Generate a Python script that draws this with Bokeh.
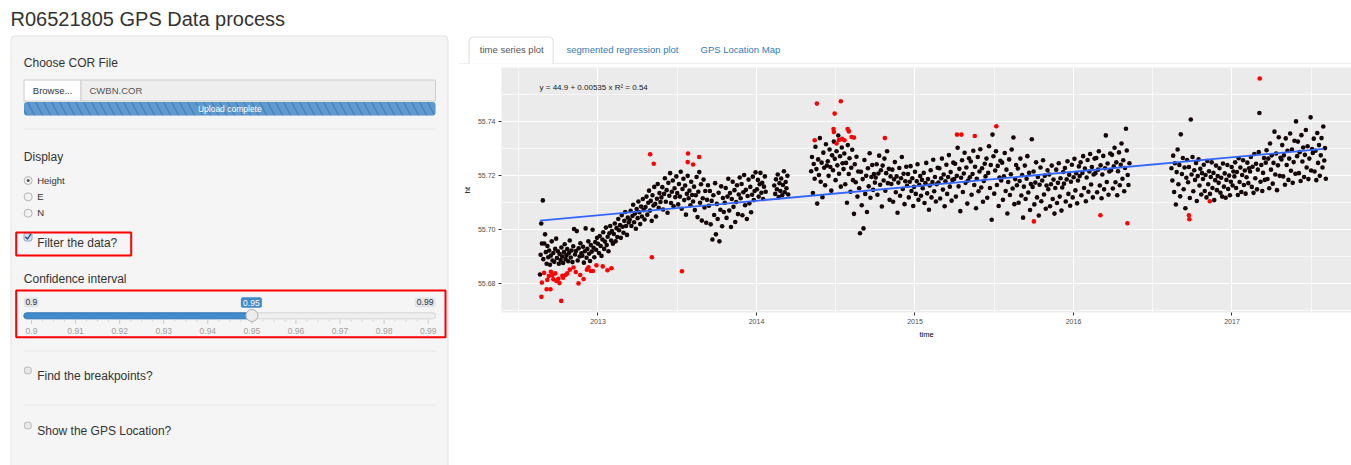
from bokeh.plotting import figure
from bokeh.layouts import row, column
from bokeh.models import Range1d, FixedTicker, Label, PrintfTickFormatter
from bokeh.core.properties import value
from bokeh.embed import file_html
from bokeh.resources import INLINE

FONT = "Liberation Sans"

# ---------------- data (decimal year, height in m) ----------------
black_points = [
    (2012.634, 55.6832), (2012.638, 55.6905), (2012.642, 55.7021), (2012.646, 55.6947), (2012.652, 55.7107), (2012.655, 55.6889),
    (2012.661, 55.6947), (2012.666, 55.6981), (2012.671, 55.6915), (2012.676, 55.6872), (2012.681, 55.6938), (2012.686, 55.6896),
    (2012.692, 55.6921), (2012.697, 55.6868), (2012.702, 55.6902), (2012.708, 55.6955), (2012.713, 55.6884), (2012.718, 55.6912),
    (2012.724, 55.6879), (2012.730, 55.6927), (2012.736, 55.6965), (2012.741, 55.6893), (2012.747, 55.6918), (2012.753, 55.6872),
    (2012.758, 55.6908), (2012.764, 55.6886), (2012.769, 55.6932), (2012.774, 55.6899), (2012.780, 55.6875), (2012.785, 55.6915),
    (2012.790, 55.6944), (2012.796, 55.6889), (2012.801, 55.6903), (2012.806, 55.6926), (2012.812, 55.6881), (2012.817, 55.6912),
    (2012.822, 55.6958), (2012.828, 55.6895), (2012.833, 55.6921), (2012.839, 55.6878), (2012.844, 55.6937), (2012.849, 55.7001),
    (2012.855, 55.6906), (2012.861, 55.6919), (2012.866, 55.6993), (2012.872, 55.6884), (2012.878, 55.6929), (2012.884, 55.6899),
    (2012.889, 55.6948), (2012.895, 55.6911), (2012.901, 55.6902), (2012.906, 55.6935), (2012.911, 55.6876), (2012.917, 55.6918),
    (2012.922, 55.7003), (2012.928, 55.6894), (2012.933, 55.6927), (2012.939, 55.6955), (2012.944, 55.6909), (2012.950, 55.6882),
    (2012.955, 55.6941), (2012.961, 55.6917), (2012.966, 55.6998), (2012.972, 55.6931), (2012.977, 55.6896), (2012.983, 55.6952),
    (2012.988, 55.6924), (2012.994, 55.6968),
    (2013.000, 55.6946), (2013.006, 55.6912), (2013.011, 55.6975), (2013.017, 55.6938), (2013.022, 55.6901), (2013.028, 55.6962),
    (2013.033, 55.6989), (2013.039, 55.6927), (2013.044, 55.6954), (2013.050, 55.7006), (2013.055, 55.6941), (2013.061, 55.6972),
    (2013.066, 55.6918), (2013.072, 55.6985), (2013.077, 55.7012), (2013.083, 55.6958), (2013.088, 55.6993), (2013.094, 55.6946),
    (2013.100, 55.6982), (2013.106, 55.7021), (2013.111, 55.6955), (2013.117, 55.7004), (2013.122, 55.6971), (2013.128, 55.7038),
    (2013.133, 55.6996), (2013.139, 55.7015), (2013.144, 55.6968), (2013.150, 55.7052), (2013.155, 55.7009), (2013.161, 55.6987),
    (2013.166, 55.7031), (2013.172, 55.7064), (2013.177, 55.7012), (2013.183, 55.6979), (2013.188, 55.7043), (2013.194, 55.7025),
    (2013.200, 55.7035), (2013.206, 55.7068), (2013.211, 55.7012), (2013.217, 55.7049), (2013.222, 55.7091), (2013.228, 55.7026),
    (2013.233, 55.7058), (2013.239, 55.7002), (2013.244, 55.7075), (2013.250, 55.7041), (2013.255, 55.7103), (2013.261, 55.7063),
    (2013.266, 55.7019), (2013.272, 55.7084), (2013.277, 55.7047), (2013.283, 55.7112), (2013.288, 55.7071), (2013.294, 55.7036),
    (2013.300, 55.7082), (2013.306, 55.7121), (2013.311, 55.7054), (2013.317, 55.7098), (2013.322, 55.7143), (2013.328, 55.7069),
    (2013.333, 55.7105), (2013.339, 55.7031), (2013.344, 55.7126), (2013.350, 55.7088), (2013.355, 55.7157), (2013.361, 55.7094),
    (2013.366, 55.7047), (2013.372, 55.7113), (2013.377, 55.7168), (2013.383, 55.7079), (2013.388, 55.7134), (2013.394, 55.7101),
    (2013.400, 55.7118), (2013.406, 55.7156), (2013.411, 55.7073), (2013.417, 55.7131), (2013.422, 55.7189), (2013.428, 55.7102),
    (2013.433, 55.7145), (2013.439, 55.7061), (2013.444, 55.7172), (2013.450, 55.7124), (2013.455, 55.7208), (2013.461, 55.7097),
    (2013.466, 55.7139), (2013.472, 55.7181), (2013.477, 55.7085), (2013.483, 55.7152), (2013.488, 55.7119), (2013.494, 55.7196),
    (2013.500, 55.7134), (2013.506, 55.7092), (2013.511, 55.7168), (2013.517, 55.7121), (2013.522, 55.7213), (2013.528, 55.7076),
    (2013.533, 55.7149), (2013.539, 55.7187), (2013.544, 55.7108), (2013.550, 55.7162), (2013.555, 55.7054), (2013.561, 55.7131),
    (2013.566, 55.7198), (2013.572, 55.7115), (2013.577, 55.7143), (2013.583, 55.7089), (2013.588, 55.7176), (2013.594, 55.7127),
    (2013.600, 55.7103), (2013.606, 55.7158), (2013.611, 55.7071), (2013.617, 55.7126), (2013.622, 55.7194), (2013.628, 55.7045),
    (2013.633, 55.7139), (2013.639, 55.7212), (2013.644, 55.7098), (2013.650, 55.7167), (2013.655, 55.7032), (2013.661, 55.7115),
    (2013.666, 55.7184), (2013.672, 55.7081), (2013.677, 55.7142), (2013.683, 55.7024), (2013.688, 55.7109), (2013.694, 55.7163),
    (2013.700, 55.7087), (2013.706, 55.7142), (2013.711, 55.7018), (2013.717, 55.7105), (2013.722, 55.6962), (2013.728, 55.7126),
    (2013.733, 55.7053), (2013.739, 55.7171), (2013.744, 55.6981), (2013.750, 55.7094), (2013.755, 55.7038), (2013.761, 55.7135),
    (2013.766, 55.6955), (2013.772, 55.7072), (2013.777, 55.7159), (2013.783, 55.7011), (2013.788, 55.7116), (2013.794, 55.7064),
    (2013.800, 55.7098), (2013.806, 55.7153), (2013.811, 55.7042), (2013.817, 55.7121), (2013.822, 55.7187), (2013.828, 55.7069),
    (2013.833, 55.7134), (2013.839, 55.7008), (2013.844, 55.7112), (2013.850, 55.7176), (2013.855, 55.7083), (2013.861, 55.7145),
    (2013.866, 55.7027), (2013.872, 55.7101), (2013.877, 55.7163), (2013.883, 55.7056), (2013.888, 55.7129), (2013.894, 55.7192),
    (2013.900, 55.7115), (2013.906, 55.7168), (2013.911, 55.7052), (2013.917, 55.7137), (2013.922, 55.7201), (2013.928, 55.7089),
    (2013.933, 55.7146), (2013.939, 55.7038), (2013.944, 55.7123), (2013.950, 55.7184), (2013.955, 55.7096), (2013.961, 55.7157),
    (2013.966, 55.7063), (2013.972, 55.7128), (2013.977, 55.7195), (2013.983, 55.7108), (2013.988, 55.7142), (2013.994, 55.7211),
    (2014.003, 55.7148), (2014.009, 55.7183), (2014.014, 55.7121), (2014.020, 55.7167), (2014.025, 55.7209), (2014.031, 55.7135),
    (2014.036, 55.7172), (2014.042, 55.7112), (2014.047, 55.7158), (2014.053, 55.7196), (2014.058, 55.7139),
    (2014.112, 55.7162), (2014.118, 55.7131), (2014.123, 55.7185), (2014.129, 55.7148), (2014.134, 55.7203), (2014.140, 55.7119),
    (2014.145, 55.7171), (2014.151, 55.7142), (2014.156, 55.7188), (2014.162, 55.7126), (2014.167, 55.7164), (2014.173, 55.7215),
    (2014.178, 55.7137), (2014.184, 55.7175), (2014.189, 55.7152), (2014.195, 55.7198), (2014.200, 55.7129),
    (2014.345, 55.7215), (2014.350, 55.7268), (2014.356, 55.7134), (2014.361, 55.7242), (2014.367, 55.7187), (2014.372, 55.7306),
    (2014.378, 55.7223), (2014.383, 55.7095), (2014.389, 55.7259), (2014.394, 55.7201), (2014.400, 55.7338), (2014.405, 55.7176),
    (2014.411, 55.7247), (2014.416, 55.7119), (2014.422, 55.7284), (2014.427, 55.7228), (2014.433, 55.7163), (2014.438, 55.7315),
    (2014.444, 55.7236), (2014.450, 55.7252), (2014.455, 55.7198), (2014.461, 55.7296), (2014.466, 55.7231), (2014.472, 55.7143),
    (2014.477, 55.7274), (2014.483, 55.7219), (2014.488, 55.7325), (2014.494, 55.7261), (2014.499, 55.7182), (2014.505, 55.7289),
    (2014.510, 55.7237), (2014.516, 55.7348), (2014.521, 55.7206), (2014.527, 55.7271), (2014.532, 55.7158), (2014.538, 55.7303),
    (2014.543, 55.7245), (2014.549, 55.7223), (2014.554, 55.7281), (2014.560, 55.7167), (2014.565, 55.7246), (2014.571, 55.7098),
    (2014.576, 55.7312), (2014.582, 55.7205), (2014.587, 55.7263), (2014.593, 55.7139), (2014.598, 55.7228), (2014.604, 55.7295),
    (2014.609, 55.7182), (2014.615, 55.7057), (2014.620, 55.7241), (2014.626, 55.7174), (2014.631, 55.7269), (2014.637, 55.7121),
    (2014.642, 55.7214), (2014.648, 55.7152), (2014.653, 55.6985), (2014.659, 55.7213), (2014.664, 55.7089), (2014.670, 55.7186),
    (2014.675, 55.7003), (2014.681, 55.7257), (2014.686, 55.7131), (2014.692, 55.7198), (2014.697, 55.7064), (2014.703, 55.7226),
    (2014.708, 55.7159), (2014.714, 55.7282), (2014.719, 55.7117), (2014.725, 55.7194), (2014.730, 55.7238), (2014.736, 55.7146),
    (2014.741, 55.7205), (2014.747, 55.7173), (2014.752, 55.7192), (2014.758, 55.7241), (2014.763, 55.7128), (2014.769, 55.7207),
    (2014.774, 55.7273), (2014.780, 55.7165), (2014.785, 55.7219), (2014.791, 55.7084), (2014.796, 55.7236), (2014.802, 55.7181),
    (2014.807, 55.7262), (2014.813, 55.7143), (2014.818, 55.7208), (2014.824, 55.7289), (2014.829, 55.7171), (2014.835, 55.7224),
    (2014.840, 55.7109), (2014.846, 55.7196), (2014.851, 55.7168), (2014.857, 55.7221), (2014.862, 55.7102), (2014.868, 55.7185),
    (2014.873, 55.7249), (2014.879, 55.7137), (2014.884, 55.7196), (2014.890, 55.7061), (2014.895, 55.7173), (2014.901, 55.7227),
    (2014.906, 55.7124), (2014.912, 55.7189), (2014.917, 55.7268), (2014.923, 55.7149), (2014.928, 55.7206), (2014.934, 55.7093),
    (2014.939, 55.7178), (2014.945, 55.7232), (2014.950, 55.7161), (2014.956, 55.7205), (2014.961, 55.7118), (2014.967, 55.7176),
    (2014.972, 55.7234), (2014.978, 55.7142), (2014.983, 55.7189), (2014.989, 55.7086), (2014.994, 55.7157),
    (2015.000, 55.7213), (2015.005, 55.7131), (2015.011, 55.7178), (2015.016, 55.7241), (2015.022, 55.7109), (2015.027, 55.7165),
    (2015.033, 55.7197), (2015.038, 55.7124), (2015.044, 55.7183), (2015.049, 55.7152), (2015.055, 55.7209), (2015.060, 55.7097),
    (2015.066, 55.7171), (2015.071, 55.7246), (2015.077, 55.7133), (2015.082, 55.7186), (2015.088, 55.7072), (2015.093, 55.7162),
    (2015.099, 55.7219), (2015.104, 55.7118), (2015.110, 55.7175), (2015.115, 55.7258), (2015.121, 55.7141), (2015.126, 55.7194),
    (2015.132, 55.7103), (2015.137, 55.7167), (2015.143, 55.7228), (2015.148, 55.7173), (2015.154, 55.7226), (2015.159, 55.7114),
    (2015.165, 55.7189), (2015.170, 55.7262), (2015.176, 55.7147), (2015.181, 55.7203), (2015.187, 55.7085), (2015.192, 55.7178),
    (2015.198, 55.7239), (2015.203, 55.7131), (2015.209, 55.7194), (2015.214, 55.7275), (2015.220, 55.7158), (2015.225, 55.7212),
    (2015.231, 55.7106), (2015.236, 55.7183), (2015.242, 55.7247), (2015.247, 55.7186), (2015.253, 55.7243), (2015.258, 55.7121),
    (2015.264, 55.7198), (2015.269, 55.7302), (2015.275, 55.7159), (2015.280, 55.7224), (2015.286, 55.7067), (2015.291, 55.7191),
    (2015.297, 55.7256), (2015.302, 55.7138), (2015.308, 55.7207), (2015.313, 55.7284), (2015.319, 55.7172), (2015.324, 55.7229),
    (2015.330, 55.7095), (2015.335, 55.7181), (2015.341, 55.7263), (2015.346, 55.7193), (2015.352, 55.7251), (2015.357, 55.7128),
    (2015.363, 55.7205), (2015.368, 55.7291), (2015.374, 55.7164), (2015.379, 55.7232), (2015.385, 55.7078), (2015.390, 55.7187),
    (2015.396, 55.7268), (2015.401, 55.7141), (2015.407, 55.7214), (2015.412, 55.7297), (2015.418, 55.7155), (2015.423, 55.7226),
    (2015.429, 55.7102), (2015.434, 55.7179), (2015.440, 55.7243), (2015.445, 55.7196), (2015.451, 55.7262), (2015.456, 55.7117),
    (2015.462, 55.7209), (2015.467, 55.7308), (2015.473, 55.7153), (2015.478, 55.7238), (2015.484, 55.7035), (2015.489, 55.7351),
    (2015.495, 55.7271), (2015.500, 55.7132), (2015.506, 55.7218), (2015.511, 55.7289), (2015.517, 55.7164), (2015.522, 55.7235),
    (2015.528, 55.7086), (2015.533, 55.7192), (2015.539, 55.7254), (2015.544, 55.7181), (2015.550, 55.7247), (2015.555, 55.7109),
    (2015.561, 55.7196), (2015.566, 55.7283), (2015.572, 55.7142), (2015.577, 55.7221), (2015.583, 55.7058), (2015.588, 55.7175),
    (2015.594, 55.7259), (2015.599, 55.7127), (2015.605, 55.7204), (2015.610, 55.7296), (2015.616, 55.7151), (2015.621, 55.7340),
    (2015.627, 55.7093), (2015.632, 55.7186), (2015.638, 55.7238), (2015.643, 55.7163), (2015.649, 55.7225), (2015.654, 55.7098),
    (2015.660, 55.7179), (2015.665, 55.7262), (2015.671, 55.7125), (2015.676, 55.7201), (2015.682, 55.7043), (2015.687, 55.7158),
    (2015.693, 55.7236), (2015.698, 55.7112), (2015.704, 55.7187), (2015.709, 55.7271), (2015.715, 55.7136), (2015.720, 55.7209),
    (2015.726, 55.7071), (2015.731, 55.7168), (2015.737, 55.7334), (2015.742, 55.7157), (2015.748, 55.7214), (2015.753, 55.7092),
    (2015.759, 55.7173), (2015.764, 55.7248), (2015.770, 55.7118), (2015.775, 55.7194), (2015.781, 55.7051), (2015.786, 55.7165),
    (2015.792, 55.7229), (2015.797, 55.7104), (2015.803, 55.7181), (2015.808, 55.7256), (2015.814, 55.7129), (2015.819, 55.7198),
    (2015.825, 55.7076), (2015.830, 55.7162), (2015.836, 55.7219), (2015.841, 55.7148), (2015.847, 55.7203), (2015.852, 55.7085),
    (2015.858, 55.7167), (2015.863, 55.7236), (2015.869, 55.7112), (2015.874, 55.7184), (2015.880, 55.7058), (2015.885, 55.7153),
    (2015.891, 55.7221), (2015.896, 55.7097), (2015.902, 55.7172), (2015.907, 55.7245), (2015.913, 55.7121), (2015.918, 55.7189),
    (2015.924, 55.7069), (2015.929, 55.7155), (2015.935, 55.7212), (2015.940, 55.7169), (2015.946, 55.7227), (2015.951, 55.7103),
    (2015.957, 55.7185), (2015.962, 55.7252), (2015.968, 55.7131), (2015.973, 55.7202), (2015.979, 55.7087), (2015.984, 55.7176),
    (2015.990, 55.7239), (2015.995, 55.7118),
    (2016.001, 55.7193), (2016.006, 55.7261), (2016.012, 55.7144), (2016.017, 55.7208), (2016.023, 55.7096), (2016.028, 55.7181),
    (2016.034, 55.7233), (2016.039, 55.7197), (2016.045, 55.7248), (2016.050, 55.7126), (2016.056, 55.7209), (2016.061, 55.7271),
    (2016.067, 55.7153), (2016.072, 55.7225), (2016.078, 55.7104), (2016.083, 55.7192), (2016.089, 55.7257), (2016.094, 55.7139),
    (2016.100, 55.7214), (2016.105, 55.7279), (2016.111, 55.7166), (2016.116, 55.7231), (2016.122, 55.7118), (2016.127, 55.7203),
    (2016.133, 55.7262), (2016.138, 55.7208), (2016.144, 55.7264), (2016.149, 55.7137), (2016.155, 55.7221), (2016.160, 55.7289),
    (2016.166, 55.7162), (2016.171, 55.7237), (2016.177, 55.7115), (2016.182, 55.7203), (2016.188, 55.7272), (2016.193, 55.7148),
    (2016.199, 55.7226), (2016.204, 55.7348), (2016.210, 55.7175), (2016.215, 55.7244), (2016.221, 55.7128), (2016.226, 55.7214),
    (2016.232, 55.7281), (2016.237, 55.7219), (2016.243, 55.7276), (2016.248, 55.7151), (2016.254, 55.7233), (2016.259, 55.7302),
    (2016.265, 55.7174), (2016.270, 55.7248), (2016.276, 55.7126), (2016.281, 55.7215), (2016.287, 55.7285), (2016.292, 55.7163),
    (2016.298, 55.7239), (2016.303, 55.7318), (2016.309, 55.7187), (2016.314, 55.7256), (2016.320, 55.7141), (2016.325, 55.7227),
    (2016.331, 55.7373), (2016.336, 55.7292), (2016.342, 55.7201), (2016.347, 55.7164), (2016.353, 55.7245),
    (2016.618, 55.7226), (2016.624, 55.7181), (2016.629, 55.7273), (2016.635, 55.7138), (2016.640, 55.7245), (2016.646, 55.7092),
    (2016.651, 55.7212), (2016.657, 55.7296), (2016.662, 55.7167), (2016.668, 55.7238), (2016.673, 55.7122), (2016.677, 55.7352),
    (2016.684, 55.7205), (2016.690, 55.7264), (2016.695, 55.7148), (2016.701, 55.7229), (2016.706, 55.7078), (2016.712, 55.7191),
    (2016.717, 55.7257), (2016.723, 55.7174), (2016.728, 55.7231), (2016.734, 55.7116), (2016.740, 55.7407), (2016.745, 55.7203),
    (2016.751, 55.7268), (2016.756, 55.7141), (2016.762, 55.7219), (2016.767, 55.7183), (2016.773, 55.7246), (2016.778, 55.7105),
    (2016.784, 55.7197), (2016.789, 55.7259), (2016.795, 55.7162), (2016.800, 55.7224), (2016.806, 55.7129), (2016.811, 55.7208),
    (2016.817, 55.7186), (2016.822, 55.7239), (2016.828, 55.7142), (2016.833, 55.7201), (2016.839, 55.7118), (2016.844, 55.7253),
    (2016.850, 55.7167), (2016.855, 55.7215), (2016.861, 55.7131), (2016.866, 55.7194), (2016.872, 55.7248), (2016.877, 55.7153),
    (2016.883, 55.7209), (2016.888, 55.7108), (2016.894, 55.7182), (2016.899, 55.7236), (2016.905, 55.7145), (2016.910, 55.7197),
    (2016.916, 55.7172), (2016.921, 55.7226), (2016.927, 55.7135), (2016.932, 55.7191), (2016.938, 55.7121), (2016.943, 55.7244),
    (2016.949, 55.7158), (2016.954, 55.7207), (2016.960, 55.7117), (2016.965, 55.7183), (2016.971, 55.7238), (2016.976, 55.7149),
    (2016.982, 55.7199), (2016.987, 55.7126), (2016.993, 55.7176), (2016.998, 55.7231),
    (2017.004, 55.7162), (2017.009, 55.7214), (2017.015, 55.7196), (2017.020, 55.7248), (2017.026, 55.7153), (2017.031, 55.7212),
    (2017.037, 55.7127), (2017.042, 55.7263), (2017.048, 55.7175), (2017.053, 55.7229), (2017.059, 55.7138), (2017.064, 55.7201),
    (2017.070, 55.7256), (2017.075, 55.7164), (2017.081, 55.7218), (2017.086, 55.7132), (2017.092, 55.7193), (2017.097, 55.7247),
    (2017.103, 55.7171), (2017.108, 55.7226), (2017.114, 55.7214), (2017.119, 55.7268), (2017.125, 55.7157), (2017.130, 55.7232),
    (2017.136, 55.7135), (2017.141, 55.7279), (2017.147, 55.7189), (2017.152, 55.7243), (2017.158, 55.7148), (2017.163, 55.7221),
    (2017.169, 55.7286), (2017.173, 55.7431), (2017.180, 55.7176), (2017.185, 55.7238), (2017.191, 55.7142), (2017.196, 55.7209),
    (2017.202, 55.7264), (2017.207, 55.7183), (2017.213, 55.7247), (2017.218, 55.7293), (2017.224, 55.7186), (2017.229, 55.7262),
    (2017.235, 55.7152), (2017.240, 55.7318), (2017.246, 55.7221), (2017.251, 55.7274), (2017.257, 55.7169), (2017.262, 55.7246),
    (2017.268, 55.7362), (2017.273, 55.7203), (2017.279, 55.7281), (2017.284, 55.7145), (2017.290, 55.7237), (2017.295, 55.7341),
    (2017.301, 55.7198), (2017.306, 55.7265), (2017.312, 55.7259), (2017.317, 55.7312), (2017.323, 55.7196), (2017.328, 55.7274),
    (2017.334, 55.7165), (2017.339, 55.7337), (2017.345, 55.7238), (2017.350, 55.7291), (2017.356, 55.7183), (2017.361, 55.7262),
    (2017.367, 55.7355), (2017.372, 55.7217), (2017.378, 55.7296), (2017.383, 55.7172), (2017.389, 55.7249), (2017.394, 55.7328),
    (2017.400, 55.7206), (2017.404, 55.7400), (2017.411, 55.7271), (2017.416, 55.7325), (2017.422, 55.7208), (2017.427, 55.7286),
    (2017.433, 55.7179), (2017.438, 55.7349), (2017.444, 55.7251), (2017.449, 55.7303), (2017.455, 55.7194), (2017.460, 55.7276),
    (2017.466, 55.7368), (2017.471, 55.7229), (2017.477, 55.7308), (2017.482, 55.7186), (2017.488, 55.7262), (2017.496, 55.7415),
    (2017.499, 55.7218), (2017.505, 55.7297), (2017.510, 55.7283), (2017.516, 55.7336), (2017.521, 55.7214), (2017.527, 55.7291),
    (2017.532, 55.7182), (2017.538, 55.7357), (2017.543, 55.7246), (2017.549, 55.7312), (2017.554, 55.7198), (2017.560, 55.7274),
    (2017.565, 55.7338), (2017.571, 55.7229), (2017.576, 55.7381), (2017.582, 55.7255), (2017.587, 55.7301), (2017.592, 55.7187),
]

red_points = [
    (2012.643, 55.6749), (2012.646, 55.6802), (2012.660, 55.6838), (2012.676, 55.6777), (2012.680, 55.6812),
    (2012.690, 55.6826), (2012.700, 55.6777), (2012.703, 55.6842), (2012.712, 55.6829), (2012.718, 55.6814),
    (2012.730, 55.6836), (2012.738, 55.6808), (2012.750, 55.6816), (2012.757, 55.6800), (2012.768, 55.6734),
    (2012.775, 55.6827), (2012.780, 55.6820), (2012.796, 55.6830), (2012.806, 55.6836), (2012.822, 55.6850),
    (2012.846, 55.6858), (2012.860, 55.6841), (2012.877, 55.6799), (2012.888, 55.6830), (2012.909, 55.6815),
    (2012.930, 55.6850), (2012.940, 55.6859), (2012.955, 55.6845), (2012.968, 55.6845), (2012.990, 55.6866),
    (2013.030, 55.6862), (2013.060, 55.6848), (2013.085, 55.6855),
    (2013.329, 55.7278), (2013.340, 55.6896), (2013.352, 55.7243), (2013.530, 55.6844), (2013.566, 55.7249),
    (2013.568, 55.7281), (2013.600, 55.7240), (2013.638, 55.7268),
    (2014.367, 55.7330), (2014.381, 55.7466), (2014.486, 55.7372), (2014.488, 55.7361), (2014.493, 55.7429),
    (2014.505, 55.7318), (2014.520, 55.7331), (2014.532, 55.7475), (2014.540, 55.7335), (2014.555, 55.7330),
    (2014.575, 55.7372), (2014.583, 55.7363), (2014.600, 55.7342), (2014.615, 55.7340), (2014.810, 55.7338),
    (2015.265, 55.7351), (2015.293, 55.7351), (2015.377, 55.7346), (2015.513, 55.7382), (2015.750, 55.7029),
    (2016.170, 55.7052), (2016.340, 55.7022), (2016.728, 55.7052), (2016.731, 55.7037), (2016.860, 55.7104),
    (2017.175, 55.7559),
]

fit_time = [2012.633, 2017.577]
fit_height = [55.7032, 55.7298]
eq_text = "y = 44.9 + 0.00535 x   R\u00b2 = 0.54"
eq_pos = (2012.631, 55.7526)

year_ticks = [2013, 2014, 2015, 2016, 2017]
year_minor = [2012.5, 2013.5, 2014.5, 2015.5, 2016.5, 2017.5]
height_ticks = [55.68, 55.70, 55.72, 55.74]
height_minor = [55.67, 55.69, 55.71, 55.73, 55.75]

tab_names = ["time series plot", "segmented regression plot", "GPS Location Map"]
radio_options = ["Height", "E", "N"]
slider_ticks = [0.90, 0.91, 0.92, 0.93, 0.94, 0.95, 0.96, 0.97, 0.98, 0.99]
slider_tick_labels = ["0.9", "0.91", "0.92", "0.93", "0.94", "0.95", "0.96", "0.97", "0.98", "0.99"]
slider_value = 0.95

black_time = [t for t, h in black_points]
black_height = [h for t, h in black_points]
red_time = [t for t, h in red_points]
red_height = [h for t, h in red_points]

PAGE_W, PAGE_H = 1351, 465
SPLIT = 458          # left column / right column boundary (page px)
TAB_H = 64           # height of tab strip (page px)


def blank(width, height, x0, x1, y0, y1):
    f = figure(width=width, height=height, x_range=Range1d(x0, x1), y_range=Range1d(y1, y0),
               output_backend="svg", toolbar_location=None, min_border=0,
               x_axis_location=None, y_axis_location=None)
    f.grid.visible = False
    f.outline_line_color = None
    f.background_fill_color = "white"
    f.border_fill_color = "white"
    f.frame_align = False
    return f


def txt(f, x, y, s, size, color="#333333", align="left", style="normal"):
    f.text(x=[x], y=[y], text=[s], text_font=value(FONT), text_font_size=size,
           text_color=color, text_align=align, text_baseline="middle", text_font_style=style)


# ---------------- left side: title + sidebar ----------------
L = blank(SPLIT, PAGE_H, 0, SPLIT, 0, PAGE_H)
txt(L, 10, 18, "R06521805 GPS Data process", "20px")
L.quad(left=[10.5], right=[447.5], top=[35.5], bottom=[490], fill_color="#f5f5f5",
       line_color="#e3e3e3", line_width=1, border_radius=4)

txt(L, 23.3, 62, "Choose COR File", "12px")
L.quad(left=[23.5], right=[80.5], top=[79.5], bottom=[100.5], fill_color="white", line_color="#cccccc")
L.quad(left=[80.5], right=[435], top=[79.5], bottom=[100.5], fill_color="#eeeeee", line_color="#cccccc")
txt(L, 32.3, 90, "Browse...", "9.5px")
txt(L, 89, 90, "CWBN.COR", "9.5px", color="#555555")
L.quad(left=[23.5], right=[435], top=[101.5], bottom=[115], fill_color="#3a7fc0", line_color=None,
       hatch_pattern="left_diagonal_line", hatch_color="white", hatch_alpha=0.2, hatch_scale=16,
       hatch_weight=6, border_radius=3)
txt(L, 229.3, 108, "Upload complete", "8.5px", color="white", align="center")

hr_y = [128.5, 350.5, 404.5]
L.segment(x0=[23.3] * 3, x1=[435] * 3, y0=hr_y, y1=hr_y, line_color="#e6e6e6", line_width=1)

txt(L, 23.3, 156, "Display", "12px")
radio_y = [180, 196.3, 212.7]
L.scatter(x=[27.7] * 3, y=radio_y, size=8, marker="circle", fill_color="#f2f2f2", line_color="#b3b3b3")
L.scatter(x=[27.7], y=[radio_y[0]], size=3, marker="circle", fill_color="#555555", line_color=None)
for name, yy in zip(radio_options, radio_y):
    txt(L, 36.7, yy - 0.5, name, "9.5px")

# filter checkbox (checked)
L.quad(left=[23.5], right=[31.5], top=[232.5], bottom=[240.5], fill_color="#d3e2f4", line_color="#8fa9cc",
       border_radius=2)
L.line(x=[24.8, 26.9, 30.4], y=[236.2, 238.6, 233.4], line_color="#24436e", line_width=1.3)
txt(L, 36.7, 242.5, "Filter the data?", "12px")
L.quad(left=[15.7], right=[130.7], top=[232], bottom=[255], fill_color=None, line_color="#ff0000", line_width=2)

txt(L, 23.3, 278.5, "Confidence interval", "12px")

# slider
sx0, sx1 = 31.0, 427.7
def sxp(v):
    return sx0 + (v - slider_ticks[0]) / (slider_ticks[-1] - slider_ticks[0]) * (sx1 - sx0)

hx = sxp(slider_value)
L.quad(left=[23.3], right=[435], top=[312.3], bottom=[318.3], fill_color="#efefef", line_color="#d4d4d4",
       border_radius=3)
L.quad(left=[23.3], right=[hx], top=[312.3], bottom=[318.3], fill_color="#428bca", line_color="#3b7dbb",
       border_radius=3)
L.quad(left=[23.3, 414.3], right=[38.3, 435], top=[296.7, 296.7], bottom=[306.7, 306.7], fill_color="#e1e4e9",
       line_color=None, border_radius=2)
L.quad(left=[hx - 11], right=[hx + 10], top=[296.7], bottom=[307.3], fill_color="#428bca", line_color=None,
       border_radius=2)
txt(L, 30.8, 301.7, slider_tick_labels[0], "8.5px", color="#333333", align="center")
txt(L, 424.6, 301.7, slider_tick_labels[-1], "8.5px", color="#333333", align="center")
txt(L, hx - 0.5, 302, "%g" % slider_value, "8.5px", color="white", align="center")
major_x = [sxp(v) for v in slider_ticks]
L.segment(x0=major_x, x1=major_x, y0=[319] * 10, y1=[323.5] * 10, line_color="#c5cbd3", line_width=1)
minor_x = [a + (b - a) * k / 4 for a, b in zip(major_x[:-1], major_x[1:]) for k in (1, 2, 3)]
L.segment(x0=minor_x, x1=minor_x, y0=[319] * len(minor_x), y1=[321.3] * len(minor_x),
          line_color="#d5d9de", line_width=1)
for v, lab in zip(major_x, slider_tick_labels):
    txt(L, v, 330.3, lab, "8.5px", color="#a0a0a0", align="center")
L.scatter(x=[hx], y=[315], size=12, marker="circle", fill_color="#ececec", line_color="#b0b0b0")
L.quad(left=[15.7], right=[445], top=[290], bottom=[336.7], fill_color=None, line_color="#ff0000", line_width=2)

# unchecked boxes
L.quad(left=[24, 24], right=[30.7, 30.7], top=[366.7, 421.7], bottom=[373.3, 428.3], fill_color="#e8e8e8",
       line_color="#b8b8b8", border_radius=2)
txt(L, 36.7, 375.8, "Find the breakpoints?", "12px")
txt(L, 36.7, 430.8, "Show the GPS Location?", "12px")

# ---------------- right side: tabs ----------------
RW = PAGE_W - SPLIT
T = blank(RW, TAB_H, SPLIT, PAGE_W, 0, TAB_H)
T.segment(x0=[SPLIT], x1=[PAGE_W], y0=[63.5], y1=[63.5], line_color="#dddddd", line_width=1)
T.quad(left=[468.5], right=[552.7], top=[36.5], bottom=[63.5], fill_color="white", line_color="#dddddd",
       border_radius=(4, 4, 0, 0))
T.segment(x0=[469.3], x1=[551.9], y0=[63.5], y1=[63.5], line_color="white", line_width=1.5)
txt(T, 479.3, 48.7, tab_names[0], "9.5px", color="#555555")
txt(T, 566, 48.7, tab_names[1], "9.5px", color="#337ab7")
txt(T, 700, 48.7, tab_names[2], "9.5px", color="#337ab7")

# ---------------- right side: ggplot-style scatter ----------------
p = figure(width=RW, height=PAGE_H - TAB_H, x_range=Range1d(2012.3912, 2017.754),
           y_range=Range1d(55.6691, 55.7600), output_backend="svg", toolbar_location=None,
           min_border_left=43, min_border_right=0, min_border_top=3, min_border_bottom=153)
p.frame_align = False
p.background_fill_color = "#EBEBEB"
p.border_fill_color = "white"
p.outline_line_color = None

p.xaxis.ticker = FixedTicker(ticks=year_ticks, minor_ticks=year_minor)
p.yaxis.ticker = FixedTicker(ticks=height_ticks, minor_ticks=height_minor)
p.xaxis.formatter = PrintfTickFormatter(format="%d")
p.yaxis.formatter = PrintfTickFormatter(format="%.2f")
for ax in (p.xaxis, p.yaxis):
    ax.axis_line_color = None
    ax.major_tick_line_color = "#333333"
    ax.major_tick_out = 3
    ax.major_tick_in = 0
    ax.minor_tick_line_color = None
    ax.major_label_text_font = FONT
    ax.major_label_text_font_size = "7px"
    ax.major_label_text_color = "#4D4D4D"
    ax.major_label_standoff = 2
    ax.axis_label_text_font = FONT
    ax.axis_label_text_font_size = "7.5px"
    ax.axis_label_text_font_style = "normal"
    ax.axis_label_text_color = "#000000"
    ax.axis_label_standoff = 3
p.xaxis.axis_label = "time"
p.yaxis.axis_label = "ht"

p.grid.grid_line_color = "white"
p.grid.grid_line_width = 1.1
p.grid.minor_grid_line_color = "white"
p.grid.minor_grid_line_width = 0.6

p.scatter(black_time, black_height, size=4.6, marker="circle", fill_color="#140606", line_color=None)
p.scatter(red_time, red_height, size=4.6, marker="circle", fill_color="#ff0000", line_color=None)
p.line(fit_time, fit_height, line_color="#3366FF", line_width=1.8)
p.add_layout(Label(x=eq_pos[0], y=eq_pos[1], text=eq_text, text_font=FONT, text_font_size="8px",
                   text_baseline="middle", text_color="#1a1a1a"))

layout = row(L, column(T, p))
open("out.html", "w").write(file_html(layout, INLINE))
